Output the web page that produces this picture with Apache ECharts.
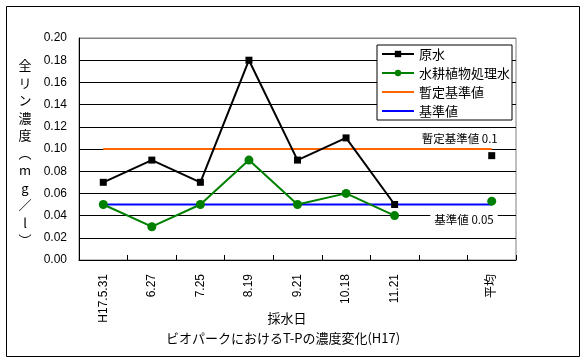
<!DOCTYPE html>
<html><head><meta charset="utf-8">
<script src="https://cdn.jsdelivr.net/npm/echarts@6/dist/echarts.min.js"></script>
<style>html,body{margin:0;padding:0;background:#fff}#c{width:588px;height:364px}</style>
</head><body><div id="c"></div>
<script>
const categories = ['H17.5.31','6.27','7.25','8.19','9.21','10.18','11.21','','平均'];
const rawWater = [0.07,0.09,0.07,0.18,0.09,0.11,0.05,null,0.094];
const treatedWater = [0.05,0.03,0.05,0.09,0.05,0.06,0.04,null,0.053];
const provisionalStd = [0.1,0.1,0.1,0.1,0.1,0.1,0.1,0.1,0.1];
const standard = [0.05,0.05,0.05,0.05,0.05,0.05,0.05,0.05,0.05];
const seriesNames = ['原水','水耕植物処理水','暫定基準値','基準値'];
const yTitleChars = ['全','リ','ン','濃','度','︵','m','g','／','l','︶'];
const xName = '採水日';
const chartTitle = 'ビオパークにおけるT-Pの濃度変化(H17)';
const provisionalLabel = '暫定基準値 0.1';
const standardLabel = '基準値 0.05';

const FONT = '"Liberation Sans", "Noto Sans CJK JP", sans-serif';
const CJK = '"Noto Sans CJK JP", sans-serif';
const chart = echarts.init(document.getElementById('c'), null, {renderer:'canvas'});
const splitColors = ['#000','#000','#000','#000','#000','#000','#000','#000','#000','#000','#808080'];
const option = {
  animation:false,
  backgroundColor:'#fff',
  grid:{left:79, top:38, right:72, bottom:104, show:true, borderColor:'#808080', borderWidth:1, backgroundColor:'transparent'},
  legend:{
    orient:'vertical', left:377, top:45, padding:[2,2,2,4], itemGap:5, itemWidth:32, itemHeight:8,
    backgroundColor:'#fff', borderColor:'#000', borderWidth:1,
    textStyle:{fontFamily:CJK, fontSize:13, color:'#000', lineHeight:14},
    data:[
      {name:seriesNames[0]},
      {name:seriesNames[1]},
      {name:seriesNames[2], itemStyle:{opacity:0}},
      {name:seriesNames[3], itemStyle:{opacity:0}}
    ]
  },
  xAxis:{
    type:'category', data:categories, boundaryGap:true,
    axisLine:{lineStyle:{color:'#000', width:1}},
    axisTick:{show:true, inside:true, length:5, interval:0, lineStyle:{color:'#000'}},
    axisLabel:{interval:0, rotate:90, margin:14, fontSize:12, fontFamily:FONT, color:'#000'},
    splitLine:{show:false}
  },
  yAxis:{
    type:'value', min:0, max:0.2, interval:0.02,
    axisLine:{show:true, lineStyle:{color:'#000', width:1}},
    axisTick:{show:false},
    axisLabel:{margin:12, fontSize:12, fontFamily:FONT, color:'#000', formatter:v=>v.toFixed(2)},
    splitLine:{show:true, lineStyle:{color:splitColors, width:1}}
  },
  series:[
    {name:seriesNames[2], type:'line', data:provisionalStd, symbol:'none', z:2,
     lineStyle:{color:'#FF6600', width:2}, itemStyle:{color:'#FF6600'}},
    {name:seriesNames[3], type:'line', data:standard, symbol:'none', z:2,
     lineStyle:{color:'#0000FF', width:2}, itemStyle:{color:'#0000FF'}},
    {name:seriesNames[0], type:'line', data:rawWater, symbol:'rect', symbolSize:7, showSymbol:true, z:3,
     lineStyle:{color:'#000', width:2}, itemStyle:{color:'#000', borderWidth:0}},
    {name:seriesNames[1], type:'line', data:treatedWater, symbol:'circle', symbolSize:9, showSymbol:true, z:3,
     lineStyle:{color:'#008000', width:2}, itemStyle:{color:'#008000', borderWidth:0}}
  ]
};
chart.setOption(option);

const pProv = chart.convertToPixel({xAxisIndex:0, yAxisIndex:0}, [categories.length-1, provisionalStd[8]]);
const pStd = chart.convertToPixel({xAxisIndex:0, yAxisIndex:0}, [categories.length-1, standard[8]]);

chart.setOption({
  graphic:[
    {type:'rect', shape:{x:6.5, y:6.5, width:573, height:350}, style:{fill:null, stroke:'#000', lineWidth:1}, z:100},
    {type:'text', x:25, y:153, style:{text:yTitleChars.join('\n'), font:'13px "Noto Sans CJK JP"', lineHeight:17.5, align:'center', verticalAlign:'middle', fill:'#000'}},
    {type:'text', x:287, y:318, style:{text:xName, font:'13px "Noto Sans CJK JP"', align:'center', verticalAlign:'middle', fill:'#000'}},
    {type:'text', x:283, y:338, style:{text:chartTitle, font:'13px "Noto Sans CJK JP"', align:'center', verticalAlign:'middle', fill:'#000'}},
    {type:'text', x:pProv[0]+6, y:pProv[1]-10, z:50, style:{text:provisionalLabel, font:'11.5px "Noto Sans CJK JP"', align:'right', verticalAlign:'middle', fill:'#000'}},
    {type:'text', x:pStd[0]+6, y:pStd[1]+15, z:50, style:{text:standardLabel, font:'11.5px "Noto Sans CJK JP"', align:'right', verticalAlign:'middle', fill:'#000', backgroundColor:'#fff', padding:[1,4,1,4]}}
  ]
});
</script></body></html>
